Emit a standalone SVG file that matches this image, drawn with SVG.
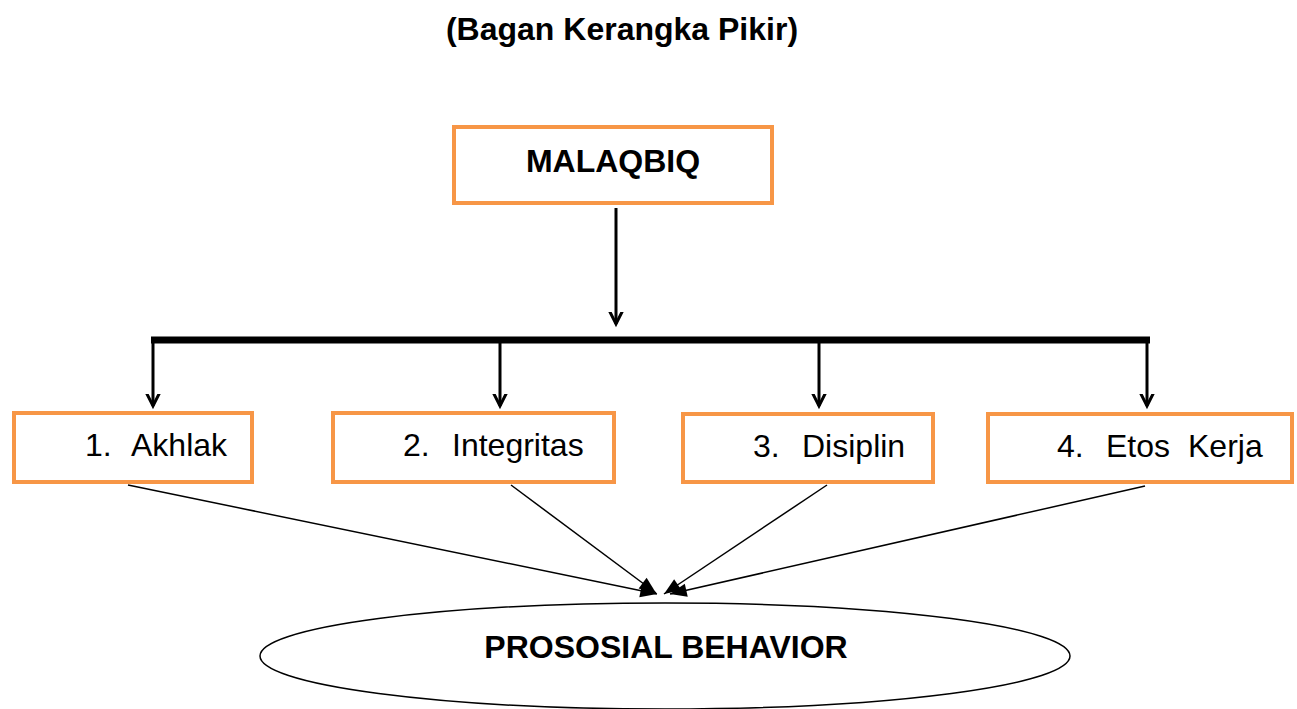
<svg xmlns="http://www.w3.org/2000/svg" width="1297" height="709" viewBox="0 0 1297 709">
<style>
.box{fill:#fff;stroke:#F79646;stroke-width:4}
.lbl{font-family:"Liberation Sans",Arial,sans-serif;font-size:32px;fill:#000}
.bold{font-family:"Liberation Sans",Arial,sans-serif;font-weight:bold;font-size:32px;fill:#000}
.down{stroke:#000;stroke-width:3;fill:none;marker-end:url(#open)}
.diag{stroke:#000;stroke-width:1.5;fill:none;marker-end:url(#solid)}
</style>
<defs>
<marker id="open" markerUnits="userSpaceOnUse" markerWidth="24" markerHeight="24" viewBox="-12 -12 24 24" refX="0" refY="0" orient="auto">
<path d="M-16,-8 L0,0 L-16,8" fill="none" stroke="#000" stroke-width="3"/>
</marker>
<marker id="solid" markerUnits="userSpaceOnUse" markerWidth="20" markerHeight="20" viewBox="-16 -8 18 16" refX="0" refY="0" orient="auto">
<path d="M-15,-6 L0,0 L-15,6 Z" fill="#000"/>
</marker>
</defs>
<text class="bold" x="622" y="40" text-anchor="middle">(Bagan Kerangka Pikir)</text>
<g id="malaqbiq">
<rect class="box" x="454" y="127" width="318" height="76"/>
<text class="bold" x="613" y="172" text-anchor="middle">MALAQBIQ</text>
</g>
<g id="connectors">
<line class="down" x1="616" y1="208" x2="616" y2="324"/>
<line x1="151" y1="340" x2="1150" y2="340" stroke="#000" stroke-width="7"/>
<line class="down" x1="153" y1="340" x2="153" y2="406"/>
<line class="down" x1="500" y1="340" x2="500" y2="406"/>
<line class="down" x1="819" y1="340" x2="819" y2="406"/>
<line class="down" x1="1147" y1="340" x2="1147" y2="406"/>
<line class="diag" x1="128" y1="485" x2="657" y2="594"/>
<line class="diag" x1="511" y1="485" x2="656" y2="593"/>
<line class="diag" x1="827" y1="485" x2="664" y2="594"/>
<line class="diag" x1="1145" y1="486" x2="670" y2="594"/>
</g>
<g id="akhlak">
<rect class="box" x="14" y="413" width="238" height="69"/>
<text class="lbl" y="456"><tspan x="85">1.</tspan><tspan x="131">Akhlak</tspan></text>
</g>
<g id="integritas">
<rect class="box" x="333" y="413" width="281" height="69"/>
<text class="lbl" y="456"><tspan x="403">2.</tspan><tspan x="452">Integritas</tspan></text>
</g>
<g id="disiplin">
<rect class="box" x="683" y="414" width="250" height="68"/>
<text class="lbl" y="457"><tspan x="753">3.</tspan><tspan x="802">Disiplin</tspan></text>
</g>
<g id="etos">
<rect class="box" x="988" y="414" width="304" height="68"/>
<text class="lbl" y="457"><tspan x="1057">4.</tspan><tspan x="1106">Etos</tspan><tspan x="1188">Kerja</tspan></text>
</g>
<g id="prososial">
<ellipse cx="665" cy="656" rx="405" ry="53" fill="#fff" stroke="#000" stroke-width="1.5"/>
<text class="bold" x="666" y="658" text-anchor="middle">PROSOSIAL BEHAVIOR</text>
</g>
</svg>
